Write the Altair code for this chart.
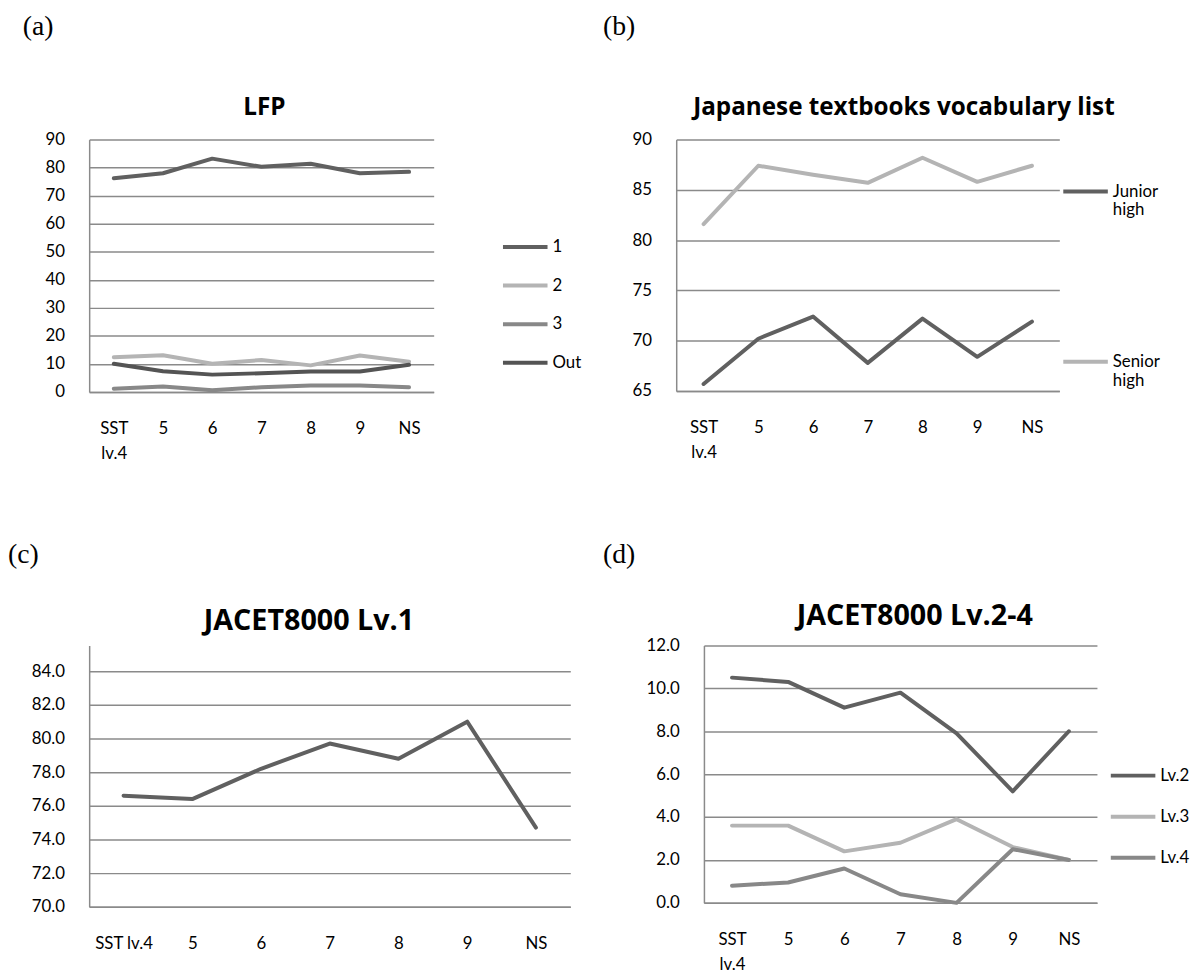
import altair as alt
import pandas as pd

cats = ["SST lv.4", "5", "6", "7", "8", "9", "NS"]

# (a) LFP
lfp_series = ["1", "2", "3", "Out"]
lfp_1 = [76.2, 78.0, 83.2, 80.3, 81.4, 78.0, 78.5]
lfp_2 = [12.4, 13.1, 10.1, 11.4, 9.5, 13.0, 10.8]
lfp_3 = [1.2, 2.0, 0.6, 1.7, 2.3, 2.3, 1.7]
lfp_out = [10.1, 7.4, 6.2, 6.7, 7.3, 7.3, 9.7]

# (b) Japanese textbooks vocabulary list
jp_series = ["Junior high", "Senior high"]
jp_junior = [65.7, 70.2, 72.4, 67.8, 72.2, 68.4, 71.9]
jp_senior = [81.6, 87.4, 86.5, 85.7, 88.2, 85.8, 87.4]

# (c) JACET8000 Lv.1
j1_series = ["Lv.1"]
j1_vals = [76.6, 76.4, 78.2, 79.7, 78.8, 81.0, 74.7]

# (d) JACET8000 Lv.2-4
j24_series = ["Lv.2", "Lv.3", "Lv.4"]
j24_lv2 = [10.5, 10.3, 9.1, 9.8, 7.9, 5.2, 8.0]
j24_lv3 = [3.6, 3.6, 2.4, 2.8, 3.9, 2.6, 2.0]
j24_lv4 = [0.8, 0.95, 1.6, 0.4, 0.0, 2.5, 2.0]

DARK = "#606060"
LIGHT = "#b4b4b4"
MID = "#888888"
DARKER = "#545454"
GRID = "#8a8a8a"
FONT = "Lato"
TFONT = "Open Sans"


def frame(series, arrays):
    rows = []
    for s, arr in zip(series, arrays):
        for c, v in zip(cats, arr):
            rows.append({"cat": c, "series": s, "value": v})
    return pd.DataFrame(rows)


def panel(df, series, colors, ydom, yticks, fmt, w, h, cell,
          title, tsize, tx, ty, plabel, px, py,
          multiline=True, legend=None):
    xkw = dict(title=None, grid=False, ticks=False, domain=True,
               domainColor=GRID, domainWidth=1.5, labelAngle=0,
               labelBaseline="top", labelPadding=29, labelLineHeight=25,
               labelFont=FONT, labelFontSize=17, labelColor="black")
    if multiline:
        xkw["labelExpr"] = "datum.value == 'SST lv.4' ? ['SST', 'lv.4'] : datum.label"
    xaxis = alt.Axis(**xkw)
    yaxis = alt.Axis(title=None, values=yticks, format=fmt, grid=True,
                     gridColor=GRID, gridWidth=1.5, ticks=False,
                     domain=True, domainColor=GRID, domainWidth=1.5,
                     labelPadding=25, labelFont=FONT, labelFontSize=17,
                     labelColor="black", labelOverlap=False)
    leg_obj = None if legend is None else alt.Legend(**legend)

    cx, cy, cw, ch = cell
    bg = alt.Chart(pd.DataFrame({"a": [0]})).mark_rect(
        opacity=0).encode(
        x=alt.value(-cx), x2=alt.value(cw - cx),
        y=alt.value(-cy), y2=alt.value(ch - cy))

    lines = alt.Chart(df).mark_line(strokeWidth=4, strokeCap="round",
                                    strokeJoin="round").encode(
        x=alt.X("cat:N", sort=cats, axis=xaxis,
                scale=alt.Scale(type="point", padding=0.5)),
        y=alt.Y("value:Q", axis=yaxis,
                scale=alt.Scale(domain=ydom, nice=False, zero=False)),
        color=alt.Color("series:N", scale=alt.Scale(domain=series, range=colors),
                        legend=leg_obj, sort=series),
        order=alt.Order("series:N"),
    )
    lab = alt.Chart(pd.DataFrame({"t": [plabel]})).mark_text(
        align="left", baseline="alphabetic", font="Liberation Serif", fontSize=28,
        color="black").encode(text="t:N", x=alt.value(px), y=alt.value(py))
    ttl = alt.Chart(pd.DataFrame({"t": [title]})).mark_text(
        align="center", baseline="alphabetic", font=TFONT, fontSize=tsize,
        fontWeight="bold", color="black").encode(
        text="t:N", x=alt.value(tx), y=alt.value(ty))
    return alt.layer(bg, lines, lab, ttl).properties(width=w, height=h)


def leg(x, y, rowpad, multiline=False):
    d = dict(title=None, orient="none", legendX=x, legendY=y, symbolType="stroke",
             symbolSize=2025, symbolStrokeWidth=4, labelFont=FONT,
             labelFontSize=17, labelColor="black", labelOffset=3,
             rowPadding=rowpad, padding=0)
    if multiline:
        d["labelExpr"] = "split(datum.label, ' ')"
    return d


A = panel(frame(lfp_series, [lfp_1, lfp_2, lfp_3, lfp_out]), lfp_series,
          [DARK, LIGHT, MID, DARKER], [0, 90], list(range(0, 91, 10)), "d",
          348, 255, (75, 126, 587, 524),
          "LFP", 24.5, 177, -25, "(a)", -67, -106,
          legend=leg(416, 84, 6))
B = panel(frame(jp_series, [jp_junior, jp_senior]), jp_series,
          [DARK, LIGHT], [65, 90], list(range(65, 91, 5)), "d",
          387, 254, (81, 126, 598, 524),
          "Japanese textbooks vocabulary list", 24.5, 230, -25, "(b)", -74, -106,
          legend=leg(389, 28, 120, multiline=True))
C = panel(frame(j1_series, [j1_vals]), j1_series, [DARK], [70, 85.53],
          list(range(70, 85, 2)), ".1f", 486, 264, (75, 113, 570, 430),
          "JACET8000 Lv.1", 29, 222, -16, "(c)", -82, -83,
          multiline=False, legend=None)
D = panel(frame(j24_series, [j24_lv2, j24_lv3, j24_lv4]), j24_series,
          [DARK, LIGHT, MID], [0, 12], list(range(0, 13, 2)), ".1f",
          397, 260, (109, 113, 598, 430),
          "JACET8000 Lv.2-4", 29, 213, -21, "(d)", -102, -83,
          legend=leg(409, 107, 8.5))

chart = alt.concat(A, B, C, D, columns=2, spacing=0, align="none").properties(
    padding=0,
    background="white",
).configure_view(stroke=None).resolve_scale(color="independent")

chart.save("out.html", embed_options={"renderer": "svg", "actions": False})
